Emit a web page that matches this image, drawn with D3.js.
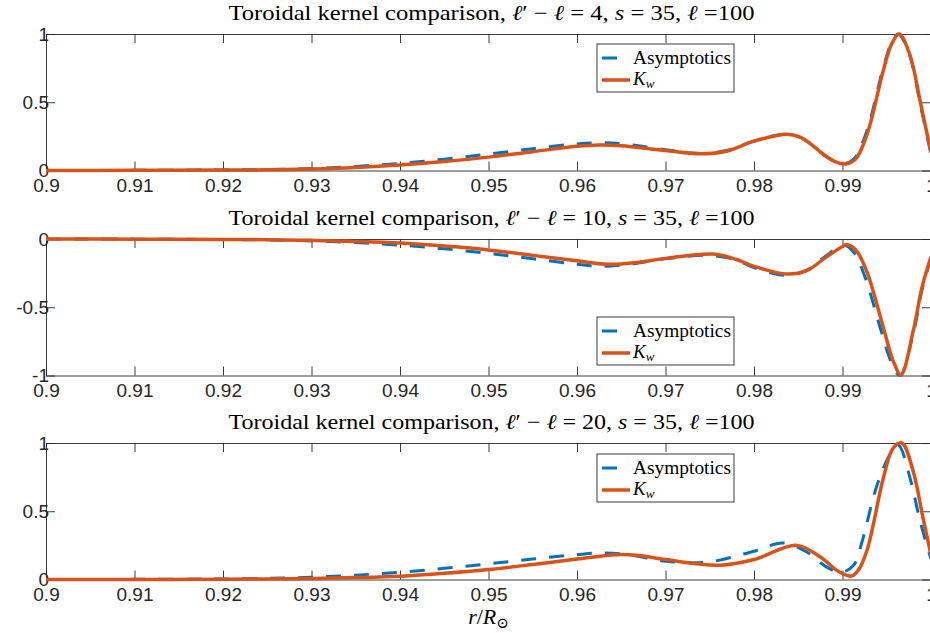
<!DOCTYPE html>
<html>
<head>
<meta charset="utf-8">
<script src="https://cdnjs.cloudflare.com/ajax/libs/d3/7.8.5/d3.min.js"></script>
<style>
  body { margin: 0; background: #fff; }
  .tick text { font-family: "Liberation Sans", Arial, sans-serif; font-size: 19px; fill: #262626; }
  .tick line, .domain { stroke: #262626; }
  .ttl, .lg, .xl { font-family: "Liberation Serif", "DejaVu Serif", serif; fill: #000; }
</style>
</head>
<body>
<svg id="fig" width="930" height="633"></svg>
<script>
// kernel values, [r/Rsun, value]
var asym4 = [[0.900,0],[0.910,0.001],[0.920,0.004],[0.925,0.007],[0.930,0.015],[0.935,0.03],[0.940,0.052],[0.945,0.083],[0.950,0.12],[0.955,0.16],[0.960,0.195],[0.9625,0.203],[0.965,0.197],[0.970,0.152],[0.974,0.125],[0.977,0.148],[0.980,0.215],[0.9836,0.265],[0.9851,0.247],[0.9864,0.195],[0.9879,0.115],[0.9892,0.065],[0.9902,0.05],[0.9913,0.085],[0.9927,0.28],[0.9946,0.75],[0.9955,0.93],[0.9963,1.0],[0.9976,0.84],[0.9988,0.48],[1.000,0.12]];
var kw4 = [[0.900,0],[0.910,0.001],[0.920,0.003],[0.925,0.005],[0.930,0.011],[0.935,0.022],[0.940,0.040],[0.945,0.066],[0.950,0.098],[0.955,0.138],[0.960,0.177],[0.9625,0.187],[0.965,0.182],[0.970,0.146],[0.974,0.122],[0.977,0.143],[0.980,0.215],[0.9837,0.265],[0.9852,0.245],[0.9865,0.19],[0.988,0.11],[0.9893,0.062],[0.9904,0.048],[0.9915,0.085],[0.9928,0.27],[0.9946,0.73],[0.9955,0.92],[0.9964,1.0],[0.9976,0.85],[0.9988,0.5],[1.000,0.13]];

var asym10 = [[0.900,0],[0.910,-0.001],[0.920,-0.004],[0.925,-0.007],[0.930,-0.014],[0.935,-0.026],[0.940,-0.045],[0.945,-0.072],[0.950,-0.105],[0.955,-0.145],[0.960,-0.185],[0.9625,-0.2],[0.966,-0.185],[0.970,-0.145],[0.975,-0.12],[0.978,-0.155],[0.980,-0.21],[0.9835,-0.265],[0.986,-0.228],[0.988,-0.13],[0.9902,-0.045],[0.9913,-0.1],[0.9925,-0.27],[0.9944,-0.68],[0.9955,-0.9],[0.9965,-1.0],[0.998,-0.69],[0.999,-0.37],[1.000,-0.14]];
var kw10 = [[0.900,0],[0.910,-0.001],[0.920,-0.003],[0.925,-0.005],[0.930,-0.01],[0.935,-0.018],[0.940,-0.03],[0.945,-0.052],[0.950,-0.08],[0.955,-0.12],[0.960,-0.16],[0.9635,-0.185],[0.967,-0.17],[0.970,-0.142],[0.9754,-0.11],[0.978,-0.15],[0.980,-0.2],[0.9837,-0.257],[0.986,-0.23],[0.988,-0.14],[0.990,-0.055],[0.9905,-0.042],[0.9915,-0.08],[0.9927,-0.23],[0.9946,-0.645],[0.9957,-0.89],[0.9966,-0.995],[0.998,-0.67],[0.999,-0.35],[1.000,-0.13]];

var asym20 = [[0.900,0],[0.910,0.001],[0.920,0.004],[0.925,0.008],[0.930,0.017],[0.935,0.032],[0.940,0.053],[0.945,0.082],[0.950,0.115],[0.955,0.15],[0.960,0.182],[0.9627,0.195],[0.966,0.18],[0.970,0.134],[0.9747,0.127],[0.980,0.207],[0.9833,0.268],[0.986,0.2],[0.988,0.1],[0.9898,0.052],[0.9912,0.1],[0.992,0.23],[0.9939,0.69],[0.9954,0.92],[0.9963,0.985],[0.9976,0.75],[0.9988,0.42],[1.000,0.15]];
var kw20 = [[0.900,0],[0.910,0.0],[0.920,0.002],[0.925,0.004],[0.930,0.008],[0.935,0.014],[0.940,0.024],[0.945,0.045],[0.950,0.073],[0.955,0.11],[0.960,0.15],[0.9645,0.182],[0.967,0.175],[0.970,0.146],[0.9762,0.105],[0.980,0.146],[0.9848,0.25],[0.9875,0.165],[0.9895,0.06],[0.991,0.025],[0.9918,0.07],[0.9928,0.22],[0.9946,0.74],[0.9957,0.96],[0.9967,1.0],[0.998,0.79],[0.9991,0.45],[1.000,0.18]];

var lDiffs = [4, 10, 20];
var xTicks = [0.9, 0.91, 0.92, 0.93, 0.94, 0.95, 0.96, 0.97, 0.98, 0.99, 1];
var yTicksPos = [0, 0.5, 1];
var yTicksNeg = [-1, -0.5, 0];
var seriesNames = ["Asymptotics", "K"];

var panels = [
  {top: 34,  yDom: [0, 1],  yTicks: yTicksPos, asym: asym4,  kw: kw4,  dl: lDiffs[0], legTop: 44},
  {top: 239, yDom: [-1, 0], yTicks: yTicksNeg, asym: asym10, kw: kw10, dl: lDiffs[1], legTop: 317},
  {top: 443, yDom: [0, 1],  yTicks: yTicksPos, asym: asym20, kw: kw20, dl: lDiffs[2], legTop: 454}
];

var left = 46, right = 931, ph = 136.5;
var blue = "#0072BD", orange = "#D95319";

var svg = d3.select("#fig");
var x = d3.scaleLinear().domain([0.9, 1]).range([left, right]);

panels.forEach(function(p) {
  var y = d3.scaleLinear().domain(p.yDom).range([p.top + ph, p.top]);
  var g = svg.append("g");

  var line = d3.line()
    .x(function(d) { return x(d[0]); })
    .y(function(d) { return y(d[1]); })
    .curve(d3.curveCatmullRom.alpha(0.5));

  // box + ticks
  g.append("g")
    .attr("transform", "translate(0," + (p.top + ph) + ")")
    .call(d3.axisBottom(x).tickValues(xTicks).tickFormat(function(d) { return String(d); })
      .tickSizeInner(-9).tickSizeOuter(0).tickPadding(8));
  g.append("g")
    .attr("transform", "translate(0," + p.top + ")")
    .call(d3.axisTop(x).tickValues(xTicks).tickFormat("").tickSizeInner(-9).tickSizeOuter(0));
  g.append("g")
    .attr("transform", "translate(" + left + ",0)")
    .call(d3.axisLeft(y).tickValues(p.yTicks).tickFormat(function(d) { return String(d); })
      .tickSizeInner(-9).tickSizeOuter(0).tickPadding(-3));
  g.append("g")
    .attr("transform", "translate(" + right + ",0)")
    .call(d3.axisRight(y).tickValues(p.yTicks).tickFormat("").tickSizeInner(-9).tickSizeOuter(0));
  g.selectAll(".domain").attr("stroke-width", 0.9);
  g.selectAll(".tick line").attr("stroke-width", 0.9);

  g.append("path").datum(p.asym)
    .attr("d", line).attr("fill", "none")
    .attr("stroke", blue).attr("stroke-width", 3)
    .attr("stroke-dasharray", "15,13");
  g.append("path").datum(p.kw)
    .attr("d", line).attr("fill", "none")
    .attr("stroke", orange).attr("stroke-width", 3.5);

  // title
  var t = g.append("text").attr("class", "ttl")
    .attr("x", (left + right) / 2 + 3).attr("y", p.top - 14)
    .attr("text-anchor", "middle").attr("font-size", 21)
    .attr("textLength", 526).attr("lengthAdjust", "spacingAndGlyphs");
  t.append("tspan").text("Toroidal kernel comparison, ");
  t.append("tspan").attr("font-style", "italic").text("ℓ");
  t.append("tspan").text("′ − ");
  t.append("tspan").attr("font-style", "italic").text("ℓ");
  t.append("tspan").text(" = " + p.dl + ", ");
  t.append("tspan").attr("font-style", "italic").text("s");
  t.append("tspan").text(" = 35, ");
  t.append("tspan").attr("font-style", "italic").text("ℓ");
  t.append("tspan").text(" =100");

  // legend
  var lg = g.append("g").attr("transform", "translate(597," + p.legTop + ")");
  lg.append("rect").attr("width", 137).attr("height", 48)
    .attr("fill", "#fff").attr("stroke", "#262626").attr("stroke-width", 0.9);
  lg.append("line").attr("x1", 5).attr("x2", 33).attr("y1", 14).attr("y2", 14)
    .attr("stroke", blue).attr("stroke-width", 3).attr("stroke-dasharray", "15,13");
  lg.append("line").attr("x1", 5).attr("x2", 33).attr("y1", 36).attr("y2", 36)
    .attr("stroke", orange).attr("stroke-width", 3.5);
  lg.append("text").attr("class", "lg").attr("x", 36).attr("y", 20)
    .attr("font-size", 18).attr("textLength", 98).attr("lengthAdjust", "spacingAndGlyphs")
    .text(seriesNames[0]);
  var k = lg.append("text").attr("class", "lg").attr("x", 36).attr("y", 41).attr("font-size", 19);
  k.append("tspan").attr("font-style", "italic").text(seriesNames[1]);
  k.append("tspan").attr("font-style", "italic").attr("font-size", 13).attr("dy", 3).text("w");
});

// x label
var xl = svg.append("text").attr("class", "xl")
  .attr("x", (left + right) / 2).attr("y", 624)
  .attr("text-anchor", "middle").attr("font-size", 22);
xl.append("tspan").attr("font-style", "italic").text("r");
xl.append("tspan").text("/");
xl.append("tspan").attr("font-style", "italic").text("R");
xl.append("tspan").attr("font-size", 15).attr("dy", 4).text("⊙");
</script>
</body>
</html>
